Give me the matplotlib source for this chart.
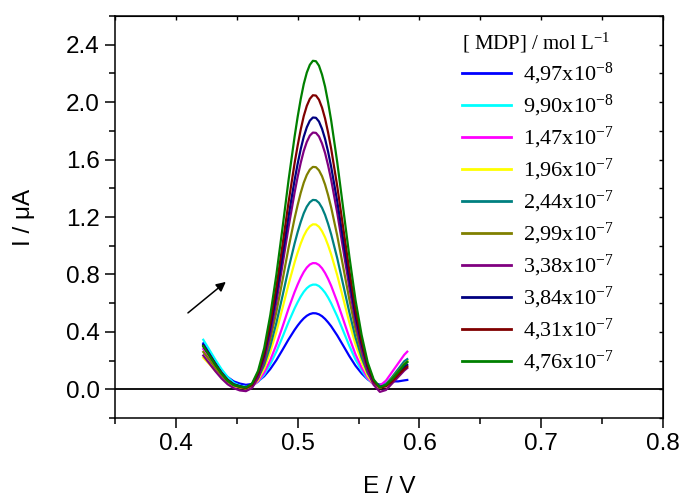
import matplotlib
matplotlib.use("Agg")
import matplotlib.pyplot as plt
from matplotlib.ticker import MultipleLocator

plt.rcParams["font.family"] = ["Liberation Sans", "DejaVu Sans"]
plt.rcParams["mathtext.fontset"] = "custom"
plt.rcParams["mathtext.rm"] = "Liberation Serif"
plt.rcParams["mathtext.it"] = "Liberation Serif:italic"

# Potential grid (V)
potential = [0.4225, 0.4275, 0.4325, 0.4375, 0.4425, 0.4475, 0.4525, 0.4575,
             0.4625, 0.4675, 0.4725, 0.4775, 0.4825, 0.4875, 0.4925, 0.4975,
             0.5000, 0.5025, 0.5050, 0.5075, 0.5100, 0.5125, 0.5150, 0.5175,
             0.5200, 0.5225, 0.5250, 0.5275, 0.5325, 0.5375, 0.5425, 0.5475,
             0.5525, 0.5575, 0.5625, 0.5675, 0.5725, 0.5775, 0.5825, 0.5875,
             0.5900]

# Current (uA) for each MDP concentration
i_497e8 = [0.320, 0.260, 0.190, 0.130, 0.085, 0.055, 0.040, 0.031,
           0.037, 0.056, 0.091, 0.141, 0.203, 0.274, 0.347, 0.414,
           0.444, 0.471, 0.494, 0.512, 0.524, 0.530, 0.529, 0.522,
           0.509, 0.490, 0.466, 0.439, 0.375, 0.303, 0.230, 0.164,
           0.111, 0.069, 0.043, 0.032, 0.040, 0.055, 0.055, 0.062,
           0.065]
i_990e8 = [0.345, 0.275, 0.205, 0.140, 0.085, 0.045, 0.025, 0.016,
           0.024, 0.052, 0.102, 0.174, 0.262, 0.363, 0.468, 0.564,
           0.607, 0.646, 0.679, 0.704, 0.721, 0.729, 0.729, 0.719,
           0.699, 0.673, 0.639, 0.599, 0.508, 0.405, 0.301, 0.207,
           0.131, 0.071, 0.033, 0.018, 0.037, 0.078, 0.125, 0.173,
           0.195]
i_147e7 = [0.280, 0.222, 0.163, 0.108, 0.062, 0.032, 0.020, 0.011,
           0.021, 0.055, 0.115, 0.203, 0.310, 0.434, 0.562, 0.678,
           0.730, 0.777, 0.817, 0.848, 0.869, 0.879, 0.878, 0.866,
           0.843, 0.810, 0.769, 0.721, 0.609, 0.484, 0.358, 0.243,
           0.151, 0.078, 0.032, 0.025, 0.060, 0.120, 0.180, 0.240,
           0.262]
i_196e7 = [0.220, 0.175, 0.128, 0.085, 0.050, 0.025, 0.013, 0.006,
           0.020, 0.065, 0.144, 0.259, 0.400, 0.563, 0.731, 0.884,
           0.953, 1.015, 1.068, 1.108, 1.135, 1.149, 1.148, 1.132,
           1.101, 1.058, 1.003, 0.940, 0.794, 0.629, 0.463, 0.312,
           0.191, 0.094, 0.034, 0.010, 0.030, 0.075, 0.130, 0.180,
           0.200]
i_244e7 = [0.300, 0.237, 0.172, 0.112, 0.063, 0.033, 0.020, 0.011,
           0.027, 0.078, 0.169, 0.301, 0.462, 0.648, 0.841, 1.016,
           1.095, 1.165, 1.226, 1.272, 1.303, 1.319, 1.317, 1.299,
           1.264, 1.215, 1.152, 1.080, 0.913, 0.724, 0.534, 0.361,
           0.222, 0.112, 0.043, 0.015, 0.035, 0.085, 0.140, 0.195,
           0.210]
i_299e7 = [0.260, 0.205, 0.148, 0.096, 0.053, 0.026, 0.013, 0.007,
           0.025, 0.085, 0.192, 0.348, 0.538, 0.757, 0.985, 1.192,
           1.284, 1.368, 1.439, 1.493, 1.530, 1.549, 1.547, 1.525,
           1.484, 1.426, 1.352, 1.267, 1.070, 0.847, 0.623, 0.419,
           0.255, 0.126, 0.044, 0.011, 0.030, 0.075, 0.125, 0.175,
           0.190]
i_338e7 = [0.235, 0.180, 0.125, 0.075, 0.035, 0.008, -0.008, -0.013,
           0.009, 0.079, 0.203, 0.386, 0.608, 0.864, 1.129, 1.371,
           1.480, 1.577, 1.660, 1.723, 1.767, 1.788, 1.786, 1.761,
           1.712, 1.646, 1.559, 1.460, 1.229, 0.969, 0.707, 0.469,
           0.277, 0.126, 0.030, -0.018, -0.005, 0.040, 0.085, 0.130,
           0.148]
i_384e7 = [0.310, 0.245, 0.178, 0.116, 0.066, 0.035, 0.022, 0.012,
           0.035, 0.108, 0.238, 0.429, 0.660, 0.928, 1.205, 1.458,
           1.571, 1.673, 1.759, 1.825, 1.871, 1.893, 1.891, 1.865,
           1.814, 1.744, 1.654, 1.550, 1.309, 1.037, 0.764, 0.515,
           0.315, 0.157, 0.057, 0.018, 0.025, 0.065, 0.110, 0.155,
           0.170]
i_431e7 = [0.300, 0.237, 0.172, 0.112, 0.063, 0.032, 0.018, 0.008,
           0.032, 0.111, 0.252, 0.459, 0.711, 1.001, 1.302, 1.576,
           1.698, 1.809, 1.903, 1.974, 2.023, 2.048, 2.046, 2.017,
           1.962, 1.886, 1.788, 1.676, 1.414, 1.120, 0.823, 0.553,
           0.336, 0.165, 0.056, 0.013, 0.020, 0.055, 0.100, 0.140,
           0.157]
i_476e7 = [0.300, 0.235, 0.170, 0.110, 0.060, 0.030, 0.020, 0.012,
           0.040, 0.129, 0.286, 0.516, 0.797, 1.120, 1.456, 1.761,
           1.898, 2.021, 2.126, 2.206, 2.260, 2.288, 2.285, 2.254,
           2.192, 2.108, 1.998, 1.873, 1.581, 1.253, 0.922, 0.621,
           0.379, 0.188, 0.067, 0.015, 0.030, 0.070, 0.120, 0.170,
           0.190]

currents = [i_497e8, i_990e8, i_147e7, i_196e7, i_244e7,
            i_299e7, i_338e7, i_384e7, i_431e7, i_476e7]
labels = ["4,97x10$^{-8}$", "9,90x10$^{-8}$", "1,47x10$^{-7}$",
          "1,96x10$^{-7}$", "2,44x10$^{-7}$", "2,99x10$^{-7}$",
          "3,38x10$^{-7}$", "3,84x10$^{-7}$", "4,31x10$^{-7}$",
          "4,76x10$^{-7}$"]
colors = ["#0000FF", "#00FFFF", "#FF00FF", "#FFFF00", "#008080",
          "#808000", "#800080", "#000080", "#800000", "#008000"]

fig = plt.figure(figsize=(6.84, 4.97), dpi=100)
ax = fig.add_axes([115 / 684, 1 - 418 / 497, 548 / 684, 402 / 497])

ax.axhline(0, color="black", lw=1.3, zorder=1)
for y, c, lab in zip(currents, colors, labels):
    ax.plot(potential, y, color=c, lw=1.6, label=lab, zorder=2,
            solid_joinstyle="round")

ax.annotate("", xy=(0.441, 0.748), xytext=(0.4099, 0.532),
            arrowprops=dict(arrowstyle="-|>", color="black", lw=1.1,
                            mutation_scale=14, shrinkA=0, shrinkB=0))

ax.set_xlim(0.35, 0.8)
ax.set_ylim(-0.2, 2.6)
ax.xaxis.set_major_locator(MultipleLocator(0.1))
ax.xaxis.set_minor_locator(MultipleLocator(0.05))
ax.yaxis.set_major_locator(MultipleLocator(0.4))
ax.yaxis.set_minor_locator(MultipleLocator(0.2))
ax.tick_params(which="major", direction="out", length=7, width=1.1,
               labelsize=17.5, pad=4)
ax.tick_params(which="minor", direction="out", length=4, width=1.1)
for s in ax.spines.values():
    s.set_linewidth(1.1)

# inward ticks on the opposite edges
top = ax.secondary_xaxis("top")
top.xaxis.set_major_locator(MultipleLocator(0.05))
top.tick_params(direction="in", length=3, width=1.0, labeltop=False)
right = ax.secondary_yaxis("right")
right.yaxis.set_major_locator(MultipleLocator(0.2))
right.tick_params(direction="in", length=3, width=1.0, labelright=False)

ax.set_xlabel("E / V", fontsize=17.5)
ax.xaxis.set_label_coords(0.5, -0.145)
ax.set_ylabel("I / μA", fontsize=17.5)
ax.yaxis.set_label_coords(-0.146, 0.5)

leg = ax.legend(title="[ MDP] / mol L$^{-1}$", loc="upper left",
                bbox_to_anchor=(462 / 684, 1 - 31 / 497),
                bbox_transform=fig.transFigure, frameon=False,
                prop={"family": "Liberation Serif", "size": 16},
                title_fontproperties={"family": "Liberation Serif", "size": 15},
                handlelength=2.2, handletextpad=0.55, labelspacing=0.265,
                borderpad=0, borderaxespad=0, alignment="left")
for h in leg.legend_handles:
    h.set_linewidth(2.0)

fig.savefig("out.png", dpi=100)
